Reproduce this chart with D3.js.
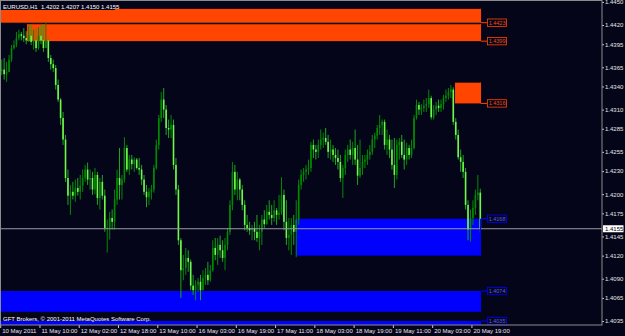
<!DOCTYPE html>
<html>
<head>
<meta charset="utf-8">
<script src="https://cdn.jsdelivr.net/npm/d3@7"></script>
<style>
  html, body { margin: 0; padding: 0; background: #05051a; }
  svg { display: block; }
  text { font-family: "Liberation Sans", Arial, sans-serif; }
</style>
</head>
<body>
<svg id="chart"></svg>
<script>
// ---- Data (EURUSD H1) ----
const symbol = "EURUSD,H1";
const firstOpen = 1.4360;

const highs = [
  1.4375,1.4377,1.4372,1.4381,1.4394,1.4400,1.4411,1.4414,1.4411,1.4416,
  1.4412,1.4419,1.4421,1.4414,1.4416,1.4417,1.4419,1.4421,1.4423,1.4402,
  1.4381,1.4375,1.4368,1.4349,1.4325,1.4307,1.4277,1.4232,1.4212,1.4216,
  1.4219,1.4221,1.4225,1.4232,1.4238,1.4241,1.4232,1.4229,1.4234,1.4229,
  1.4221,1.4225,1.4206,1.4167,1.4177,1.4180,1.4206,1.4232,1.4260,1.4225,
  1.4274,1.4264,1.4251,1.4251,1.4248,1.4247,1.4247,1.4238,1.4225,1.4212,
  1.4208,1.4212,1.4238,1.4271,1.4303,1.4333,1.4338,1.4316,1.4297,1.4303,
  1.4297,1.4247,1.4212,1.4143,1.4121,1.4130,1.4127,1.4115,1.4095,1.4088,
  1.4091,1.4095,1.4101,1.4104,1.4112,1.4108,1.4140,1.4143,1.4143,1.4146,
  1.4140,1.4143,1.4156,1.4192,1.4242,1.4238,1.4229,1.4221,1.4212,1.4192,
  1.4173,1.4164,1.4160,1.4164,1.4173,1.4160,1.4173,1.4179,1.4186,1.4192,
  1.4186,1.4192,1.4182,1.4199,1.4222,1.4206,1.4192,1.4169,1.4169,1.4173,
  1.4192,1.4219,1.4232,1.4234,1.4238,1.4245,1.4268,1.4271,1.4264,1.4271,
  1.4284,1.4280,1.4286,1.4277,1.4271,1.4264,1.4260,1.4258,1.4251,1.4238,
  1.4258,1.4264,1.4271,1.4268,1.4284,1.4264,1.4271,1.4251,1.4251,1.4258,
  1.4264,1.4277,1.4280,1.4290,1.4303,1.4297,1.4297,1.4284,1.4277,1.4271,
  1.4273,1.4271,1.4273,1.4277,1.4271,1.4267,1.4264,1.4271,1.4303,1.4323,
  1.4320,1.4317,1.4323,1.4325,1.4336,1.4328,1.4316,1.4320,1.4323,1.4323,
  1.4329,1.4336,1.4338,1.4342,1.4339,1.4299,1.4284,1.4258,1.4251,1.4234,
  1.4192,1.4180,1.4192,1.4206,1.4225,1.4207
];

const lows = [
  1.4355,1.4349,1.4346,1.4359,1.4372,1.4388,1.4391,1.4400,1.4400,1.4398,
  1.4395,1.4398,1.4394,1.4388,1.4385,1.4388,1.4395,1.4385,1.4390,1.4372,
  1.4362,1.4359,1.4336,1.4320,1.4290,1.4264,1.4216,1.4186,1.4173,1.4193,
  1.4190,1.4198,1.4193,1.4203,1.4216,1.4212,1.4206,1.4199,1.4200,1.4186,
  1.4180,1.4193,1.4151,1.4124,1.4141,1.4154,1.4154,1.4186,1.4193,1.4193,
  1.4215,1.4229,1.4225,1.4232,1.4229,1.4232,1.4225,1.4212,1.4199,1.4183,
  1.4186,1.4193,1.4202,1.4232,1.4258,1.4294,1.4299,1.4277,1.4273,1.4273,
  1.4232,1.4199,1.4134,1.4065,1.4088,1.4095,1.4099,1.4075,1.4069,1.4062,
  1.4073,1.4062,1.4075,1.4082,1.4082,1.4086,1.4099,1.4114,1.4108,1.4117,
  1.4112,1.4101,1.4127,1.4147,1.4179,1.4199,1.4192,1.4192,1.4179,1.4153,
  1.4151,1.4147,1.4140,1.4140,1.4138,1.4127,1.4134,1.4156,1.4160,1.4167,
  1.4160,1.4164,1.4160,1.4167,1.4173,1.4153,1.4134,1.4127,1.4121,1.4134,
  1.4118,1.4160,1.4206,1.4216,1.4219,1.4225,1.4229,1.4247,1.4245,1.4247,
  1.4258,1.4260,1.4264,1.4247,1.4245,1.4242,1.4238,1.4232,1.4216,1.4195,
  1.4225,1.4242,1.4245,1.4238,1.4238,1.4212,1.4221,1.4225,1.4234,1.4238,
  1.4245,1.4251,1.4260,1.4271,1.4277,1.4277,1.4258,1.4251,1.4247,1.4232,
  1.4208,1.4219,1.4245,1.4247,1.4232,1.4238,1.4245,1.4247,1.4258,1.4297,
  1.4303,1.4303,1.4307,1.4307,1.4312,1.4297,1.4297,1.4303,1.4307,1.4307,
  1.4310,1.4320,1.4323,1.4325,1.4290,1.4271,1.4245,1.4229,1.4221,1.4180,
  1.4140,1.4138,1.4160,1.4173,1.4192,1.4150
];

const closes = [
  1.4362,1.4356,1.4359,1.4375,1.4390,1.4394,1.4403,1.4408,1.4406,1.4403,
  1.4400,1.4406,1.4398,1.4400,1.4390,1.4406,1.4400,1.4390,1.4400,1.4377,
  1.4369,1.4364,1.4342,1.4323,1.4299,1.4271,1.4221,1.4198,1.4203,1.4198,
  1.4208,1.4203,1.4211,1.4221,1.4232,1.4219,1.4221,1.4206,1.4225,1.4195,
  1.4216,1.4198,1.4156,1.4156,1.4169,1.4164,1.4193,1.4221,1.4212,1.4219,
  1.4260,1.4232,1.4245,1.4239,1.4245,1.4234,1.4232,1.4219,1.4203,1.4196,
  1.4203,1.4206,1.4234,1.4264,1.4299,1.4323,1.4310,1.4286,1.4284,1.4290,
  1.4238,1.4206,1.4140,1.4101,1.4104,1.4117,1.4112,1.4081,1.4075,1.4082,
  1.4086,1.4075,1.4091,1.4095,1.4088,1.4101,1.4130,1.4121,1.4134,1.4127,
  1.4117,1.4134,1.4151,1.4186,1.4229,1.4206,1.4219,1.4206,1.4186,1.4160,
  1.4156,1.4153,1.4156,1.4151,1.4143,1.4151,1.4167,1.4161,1.4177,1.4173,
  1.4169,1.4179,1.4173,1.4176,1.4199,1.4164,1.4143,1.4147,1.4160,1.4151,
  1.4167,1.4212,1.4225,1.4229,1.4232,1.4234,1.4264,1.4258,1.4255,1.4264,
  1.4271,1.4273,1.4268,1.4255,1.4258,1.4251,1.4247,1.4242,1.4221,1.4234,
  1.4251,1.4258,1.4251,1.4260,1.4245,1.4224,1.4234,1.4242,1.4245,1.4251,
  1.4255,1.4271,1.4276,1.4286,1.4290,1.4294,1.4264,1.4271,1.4258,1.4238,
  1.4225,1.4264,1.4268,1.4251,1.4245,1.4260,1.4251,1.4260,1.4299,1.4316,
  1.4310,1.4312,1.4315,1.4317,1.4325,1.4300,1.4310,1.4315,1.4312,1.4317,
  1.4325,1.4328,1.4333,1.4336,1.4294,1.4277,1.4248,1.4242,1.4229,1.4186,
  1.4154,1.4169,1.4182,1.4199,1.4202,1.4155
];

// time axis labels, every 16 bars
const timeLabelBars = [0, 16, 32, 48, 64, 80, 96, 112, 128, 144, 160, 176, 192];
const timeLabels = [
  "10 May 2011", "11 May 10:00", "12 May 02:00", "12 May 18:00", "13 May 10:00",
  "16 May 03:00", "16 May 19:00", "17 May 11:00", "18 May 03:00", "18 May 19:00",
  "19 May 11:00", "20 May 03:00", "20 May 19:00"
];

// price axis ticks
const priceTicks = [
  1.4450, 1.4420, 1.4395, 1.4365, 1.4340, 1.4310, 1.4285, 1.4255,
  1.4230, 1.4200, 1.4175, 1.4145, 1.4120, 1.4090, 1.4065, 1.4035
];

// supply / demand zones (start bar, top price, bottom price)
const zoneKind   = ["supply", "supply", "supply", "demand", "demand", "demand"];
const zoneStart  = [-1, 10.3, 184.7, 120, -1, -1];
const zoneTop    = [1.4441, 1.4421, 1.4345, 1.4168, 1.4074, 1.4035];
const zoneBottom = [1.4423, 1.4399, 1.4318, 1.4120, 1.4047, 1.4000];
const zoneLabels = ["1.4423", "1.4399", "1.4316", "1.4168", "1.4074", "1.4035"];

const copyright = "GFT Brokers, \u00a9 2001-2011 MetaQuotes Software Corp.";

// ---- Configuration ----
const width = 625, height = 336;
const plot = { left: 1, top: 1, right: 602, bottom: 325 };
const bg = "#05051a";
const zoneColor = { supply: "#ff4500", demand: "#0000ff" };
const zoneText = { supply: "#ff4500", demand: "#5a5aff" };
const bullColor = "#008a00";
const bearColor = "#70f848";
const fmt = d3.format(".4f");
const fontSize = 6;

const svg = d3.select("#chart")
  .attr("width", width)
  .attr("height", height);

svg.append("rect")
  .attr("width", width).attr("height", height)
  .attr("fill", bg);

// Scales
const lastBar = closes.length - 1;
const x = d3.scaleLinear().domain([0, lastBar]).range([1.7, 480.3]);
const y = d3.scaleLinear().domain([1.4035, 1.4420]).range([321, 25]);
const zoneEnd = lastBar + 0.3;

svg.append("clipPath").attr("id", "plot-clip")
  .append("rect")
  .attr("x", plot.left).attr("y", plot.top)
  .attr("width", plot.right - plot.left).attr("height", plot.bottom - plot.top);

const plotG = svg.append("g").attr("clip-path", "url(#plot-clip)");

// Zones
const zones = zoneKind.map((k, i) => ({
  kind: k, start: zoneStart[i], top: zoneTop[i], bottom: zoneBottom[i], label: zoneLabels[i]
}));

plotG.selectAll("rect.zone")
  .data(zones)
  .join("rect")
  .attr("class", "zone")
  .attr("x", d => x(d.start))
  .attr("y", d => y(d.top))
  .attr("width", d => x(zoneEnd) - x(d.start))
  .attr("height", d => y(d.bottom) - y(d.top))
  .attr("fill", d => zoneColor[d.kind]);

// Candles
const bars = closes.map((c, i) => ({
  i, open: i === 0 ? firstOpen : closes[i - 1], high: highs[i], low: lows[i], close: c
}));

plotG.selectAll("line.wick")
  .data(bars)
  .join("line")
  .attr("class", "wick")
  .attr("x1", d => x(d.i)).attr("x2", d => x(d.i))
  .attr("y1", d => y(d.high)).attr("y2", d => y(d.low))
  .attr("stroke", d => d.close >= d.open ? bullColor : "#1aa81a")
  .attr("stroke-width", 1);

plotG.selectAll("rect.body")
  .data(bars)
  .join("rect")
  .attr("class", "body")
  .attr("x", d => x(d.i) - 0.8)
  .attr("width", 1.6)
  .attr("y", d => y(Math.max(d.open, d.close)))
  .attr("height", d => Math.max(1, Math.abs(y(d.open) - y(d.close))))
  .attr("fill", d => d.close >= d.open ? bullColor : bearColor);

// Current price line
const last = bars[lastBar];
svg.append("line")
  .attr("x1", plot.left).attr("x2", plot.right)
  .attr("y1", y(last.close)).attr("y2", y(last.close))
  .attr("stroke", "#9a9aa4").attr("stroke-width", 1);

// Zone labels on the right of the zones
const zoneLabelY = d => d.kind === "supply" ? y(d.bottom) : y(d.top);
const labelG = svg.append("g");
zones.forEach(d => {
  const ly = zoneLabelY(d);
  const top = Math.max(y(d.top), plot.top);
  const bottom = Math.min(y(d.bottom), plot.bottom);
  labelG.append("line")
    .attr("x1", x(zoneEnd) - 0.5).attr("x2", x(zoneEnd) - 0.5)
    .attr("y1", top).attr("y2", bottom)
    .attr("stroke", zoneColor[d.kind]);
  labelG.append("line")
    .attr("x1", x(zoneEnd)).attr("x2", x(zoneEnd) + 6)
    .attr("y1", ly).attr("y2", ly)
    .attr("stroke", zoneColor[d.kind]);
  labelG.append("rect")
    .attr("x", x(zoneEnd) + 6.5).attr("y", ly - 3.7)
    .attr("width", 19).attr("height", 7.4)
    .attr("fill", bg)
    .attr("stroke", zoneColor[d.kind]).attr("stroke-width", 0.8);
  labelG.append("text")
    .attr("x", x(zoneEnd) + 7.6).attr("y", ly + 2)
    .attr("font-size", 5.5)
    .attr("fill", zoneText[d.kind])
    .text(d.label);
});

// Title with OHLC of the last bar
svg.append("rect")
  .attr("x", plot.left).attr("y", 2.5)
  .attr("width", 114).attr("height", 7.5)
  .attr("fill", bg);
svg.append("text")
  .attr("x", 3).attr("y", 8.6)
  .attr("font-size", fontSize)
  .attr("fill", "#ffffff")
  .attr("xml:space", "preserve")
  .text(`${symbol}  ${fmt(last.open)} ${fmt(last.high)} ${fmt(last.low)} ${fmt(last.close)}`);

// Copyright
svg.append("text")
  .attr("x", 3).attr("y", 320.5)
  .attr("font-size", fontSize)
  .attr("fill", "#ffffff")
  .text(copyright);

// Price axis
const yAxis = svg.append("g")
  .attr("transform", `translate(${plot.right},0)`)
  .call(d3.axisRight(y).tickValues(priceTicks).tickFormat(fmt).tickSize(2).tickPadding(1));
yAxis.select(".domain").remove();
yAxis.selectAll("line").attr("stroke", "#c8c8c8");
yAxis.selectAll("text")
  .attr("font-size", fontSize)
  .attr("font-family", "'Liberation Sans', Arial, sans-serif")
  .attr("fill", "#e6e6e6");

// Current price tag
const tagY = y(last.close);
svg.append("rect")
  .attr("x", plot.right + 1).attr("y", tagY - 3.5)
  .attr("width", 20.5).attr("height", 7)
  .attr("fill", "#ffffff");
svg.append("text")
  .attr("x", plot.right + 3).attr("y", tagY + 2.2)
  .attr("font-size", fontSize)
  .attr("fill", "#000000")
  .text(fmt(last.close));

// Time axis
const xAxis = svg.append("g")
  .attr("transform", `translate(0,${plot.bottom})`)
  .call(d3.axisBottom(x).tickValues(timeLabelBars)
    .tickFormat((d, i) => timeLabels[i]).tickSize(3).tickPadding(1));
xAxis.select(".domain").remove();
xAxis.selectAll("line")
  .attr("x1", -1.5).attr("x2", -1.5)
  .attr("stroke", "#c8c8c8");
xAxis.selectAll("text")
  .attr("text-anchor", "start")
  .attr("x", 0)
  .attr("font-size", fontSize)
  .attr("font-family", "'Liberation Sans', Arial, sans-serif")
  .attr("fill", "#e6e6e6");

// Chart border
svg.append("rect")
  .attr("x", 0.5).attr("y", 0.5)
  .attr("width", plot.right - 0.5).attr("height", plot.bottom - 0.5)
  .attr("fill", "none")
  .attr("stroke", "#8c8c8c")
  .attr("stroke-width", 1);
</script>
</body>
</html>
